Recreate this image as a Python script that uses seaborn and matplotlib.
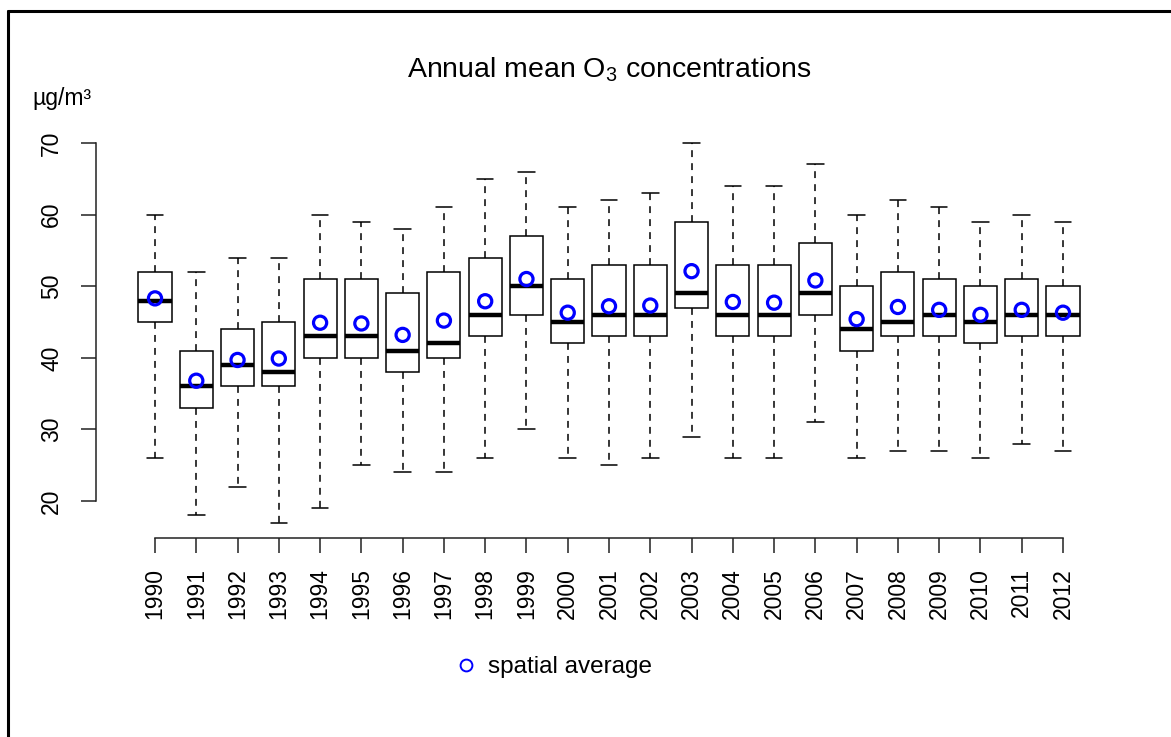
import numpy as np
import pandas as pd
import matplotlib
matplotlib.use("Agg")
import matplotlib.pyplot as plt
from matplotlib.lines import Line2D
import seaborn as sns

# === DATA ===
years = [str(y) for y in range(1990, 2013)]
whis_low = [26, 18, 22, 17, 19, 25, 24, 24, 26, 30, 26, 25, 26, 29, 26, 26, 31, 26, 27, 27, 26, 28, 27]
q1 = [45, 33, 36, 36, 40, 40, 38, 40, 43, 46, 42, 43, 43, 47, 43, 43, 46, 41, 43, 43, 42, 43, 43]
medians = [48, 36, 39, 38, 43, 43, 41, 42, 46, 50, 45, 46, 46, 49, 46, 46, 49, 44, 45, 46, 45, 46, 46]
q3 = [52, 41, 44, 45, 51, 51, 49, 52, 54, 57, 51, 53, 53, 59, 53, 53, 56, 50, 52, 51, 50, 51, 50]
whis_high = [60, 52, 54, 54, 60, 59, 58, 61, 65, 66, 61, 62, 63, 70, 64, 64, 67, 60, 62, 61, 59, 60, 59]
means = [48.3, 36.8, 39.7, 39.9, 44.9, 44.8, 43.2, 45.2, 47.9, 51.0, 46.3, 47.2, 47.3,
         52.1, 47.8, 47.7, 50.8, 45.4, 47.1, 46.7, 46.0, 46.7, 46.3]

# five-number summary per year -> long table (percentiles of 5 points give q1/median/q3 exactly)
rows = []
for i, yr in enumerate(years):
    for v in (whis_low[i], q1[i], medians[i], q3[i], whis_high[i]):
        rows.append({"year": yr, "value": v})
df = pd.DataFrame(rows)

# === STYLE ===
sns.set_style("ticks")
plt.rcParams["font.family"] = ["Liberation Sans", "DejaVu Sans"]
plt.rcParams["mathtext.fontset"] = "custom"
plt.rcParams["mathtext.rm"] = "Liberation Sans"
plt.rcParams["mathtext.default"] = "regular"
plt.rcParams["text.color"] = "black"

W, H = 1171, 737
fig = plt.figure(figsize=(W / 100, H / 100), dpi=100)
ax = fig.add_axes([96.4 / W, 1 - 537.7 / H, (1121.6 - 96.4) / W, (537.7 - 127.8) / H])

lw = 1.1
sns.boxplot(data=df, x="year", y="value", whis=(0, 100), width=0.8,
            color="white", linecolor="black", linewidth=lw, showfliers=False,
            medianprops={"linewidth": 3.2, "color": "black", "solid_capstyle": "butt"},
            whiskerprops={"linestyle": (0, (4.5, 4)), "linewidth": lw},
            capprops={"linewidth": lw},
            ax=ax)

# spatial average per year
sns.scatterplot(x=np.arange(len(years)), y=means, marker="o", s=90,
                facecolors="none", edgecolor="blue", linewidth=2.3, zorder=5, ax=ax)

ax.set_xlim(-1.42, len(years) - 1 + 1.42)
ax.set_ylim(14.88, 72.12)
ax.set_yticks([20, 30, 40, 50, 60, 70])
ax.set_xticks(np.arange(len(years)))
ax.set_xticklabels(years)
ax.set_xlabel("")
ax.set_ylabel("")

for side in ("top", "right"):
    ax.spines[side].set_visible(False)
ax.spines["left"].set_bounds(20, 70)
ax.spines["bottom"].set_bounds(0, len(years) - 1)
for side in ("left", "bottom"):
    ax.spines[side].set_linewidth(lw)
    ax.spines[side].set_color("#222222")

ax.tick_params(axis="both", direction="out", length=10.8, width=lw, color="#222222",
               labelsize=16.5, labelcolor="black")
ax.tick_params(axis="x", labelrotation=90, pad=11)
ax.tick_params(axis="y", labelrotation=90, pad=13)
for lab in ax.get_yticklabels():
    lab.set_va("center")

# title and unit label
fig.text(609 / W, 1 - 78 / H, "Annual mean O$_3$ concentrations", ha="center", va="baseline",
         fontsize=20.5, color="black")
fig.text(32 / W, 1 - 98 / H, "µg/m³", ha="left", va="center", fontsize=16.5, color="black")

# legend below the axis
handle = Line2D([], [], linestyle="none", marker="o", markersize=8.5,
                markerfacecolor="none", markeredgecolor="blue", markeredgewidth=1.4)
leg = fig.legend([handle], ["spatial average"], loc="center", bbox_to_anchor=(553 / W, 1 - 667 / H),
                 frameon=False, fontsize=17.5, handlelength=1.0, handletextpad=0.4)
for t in leg.get_texts():
    t.set_color("black")

# frame lines on top and left edges
fig.add_artist(Line2D([7.5 / W, 7.5 / W], [0, 1 - 10.5 / H], color="black", linewidth=2.2,
                      transform=fig.transFigure))
fig.add_artist(Line2D([7.5 / W, 1], [1 - 10.5 / H, 1 - 10.5 / H], color="black", linewidth=2.2,
                      transform=fig.transFigure))

fig.savefig("out.png", dpi=100)
